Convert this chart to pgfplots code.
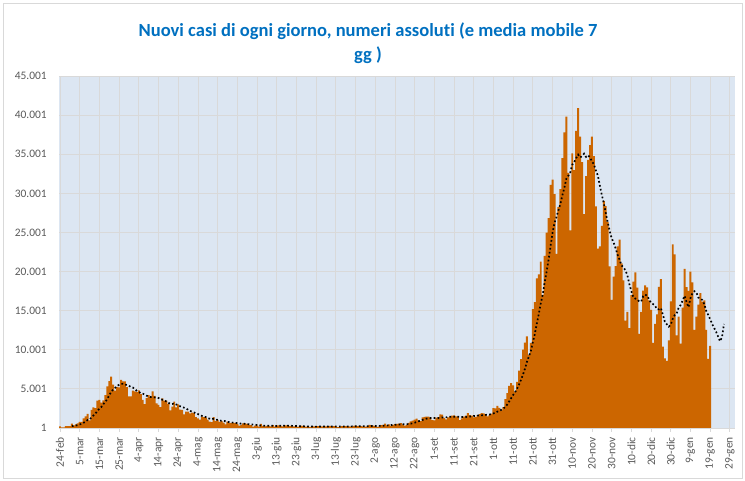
\documentclass[border=0pt]{standalone}
\usepackage{pgfplots}
\pgfplotsset{compat=1.18}
\usepackage{fontspec}
\setmainfont{Carlito}[Ligatures={NoCommon,NoDiscretionary}]
\definecolor{barc}{RGB}{204,102,0}
\definecolor{bgc}{RGB}{220,230,242}
\definecolor{gridc}{RGB}{217,217,217}
\definecolor{tickc}{RGB}{89,89,89}
\definecolor{titlec}{RGB}{0,112,192}
\begin{document}
\begin{tikzpicture}
\useasboundingbox (0,0) rectangle (745bp,481bp);
\draw[gridc, line width=0.75pt] (3bp,3bp) rectangle (742bp,478bp);
\node[align=center, text=titlec, font=\fontsize{18.6}{23.5}\selectfont\bfseries] at (368bp,438bp) {Nuovi casi di ogni giorno, numeri assoluti (e media mobile 7\\gg )};
\begin{axis}[
  at={(59bp,53bp)}, anchor=south west,
  scale only axis, width=676bp, height=352bp,
  xmin=-0.5, xmax=342.6, ymin=1, ymax=45001,
  axis background/.style={fill=bgc},
  axis x line*=bottom, axis y line*=left,
  x axis line style={gridc, line width=0.8pt, -},
  y axis line style={draw=none},
  xtick={0,10,...,340},
  xticklabels={24-feb,5-mar,15-mar,25-mar,4-apr,14-apr,24-apr,4-mag,14-mag,24-mag,3-giu,13-giu,23-giu,3-lug,13-lug,23-lug,2-ago,12-ago,22-ago,1-set,11-set,21-set,1-ott,11-ott,21-ott,31-ott,10-nov,20-nov,30-nov,10-dic,20-dic,30-dic,9-gen,19-gen,29-gen},
  ytick={1,5001,...,45001},
  yticklabels={1,5.001,10.001,15.001,20.001,25.001,30.001,35.001,40.001,45.001},
  scaled y ticks=false,
  grid=major, major grid style={gridc, line width=0.8pt},
  xtick align=outside, major tick length=4bp,
  xtick style={gridc, line width=0.8pt},
  ytick style={draw=none},
  /pgf/number format/assume math mode=true,
  tick label style={font=\fontsize{11.5}{12}\selectfont, text=tickc},
  xticklabel style={rotate=90, anchor=east, inner xsep=5bp, inner ysep=1bp},
  yticklabel style={anchor=east, inner sep=0pt, xshift=-12bp},
  clip=true,
]
\addplot[ybar, bar width=1, fill=barc, draw=none] coordinates {
(0,221)(1,93)(2,78)(3,250)(4,238)(5,240)(6,566)(7,342)(8,466)(9,587)(10,769)(11,778)(12,1247)(13,1492)(14,1797)(15,977)(16,2313)(17,2651)(18,2547)(19,3497)
(20,3590)(21,3233)(22,3526)(23,4207)(24,5322)(25,5986)(26,6557)(27,5560)(28,4789)(29,5249)(30,5210)(31,6153)(32,5959)(33,5974)(34,5217)(35,4050)(36,4053)(37,4782)(38,4668)(39,4585)
(40,4805)(41,4316)(42,3599)(43,3039)(44,3836)(45,4204)(46,3951)(47,4694)(48,4092)(49,3153)(50,2972)(51,2667)(52,3786)(53,3493)(54,3491)(55,3047)(56,2256)(57,2729)(58,3370)(59,2646)
(60,3021)(61,2357)(62,2324)(63,1739)(64,2091)(65,2086)(66,1872)(67,1965)(68,1900)(69,1389)(70,1221)(71,1075)(72,1444)(73,1401)(74,1327)(75,1083)(76,802)(77,744)(78,1402)(79,888)
(80,992)(81,789)(82,875)(83,675)(84,451)(85,813)(86,665)(87,642)(88,652)(89,669)(90,531)(91,300)(92,397)(93,584)(94,593)(95,516)(96,416)(97,355)(98,178)(99,318)
(100,321)(101,177)(102,518)(103,270)(104,197)(105,280)(106,283)(107,202)(108,379)(109,163)(110,346)(111,338)(112,301)(113,210)(114,329)(115,333)(116,251)(117,262)(118,224)(119,218)
(120,122)(121,190)(122,296)(123,259)(124,175)(125,174)(126,126)(127,142)(128,187)(129,201)(130,223)(131,235)(132,192)(133,208)(134,138)(135,193)(136,229)(137,276)(138,188)(139,234)
(140,169)(141,114)(142,162)(143,230)(144,233)(145,249)(146,219)(147,218)(148,129)(149,282)(150,306)(151,252)(152,275)(153,255)(154,170)(155,181)(156,212)(157,386)(158,379)(159,295)
(160,239)(161,159)(162,190)(163,384)(164,402)(165,552)(166,347)(167,463)(168,259)(169,412)(170,481)(171,523)(172,574)(173,629)(174,479)(175,320)(176,403)(177,642)(178,845)(179,947)
(180,1071)(181,1210)(182,953)(183,878)(184,1367)(185,1411)(186,1462)(187,1444)(188,1365)(189,996)(190,978)(191,1326)(192,1397)(193,1733)(194,1695)(195,1297)(196,1108)(197,1370)(198,1434)(199,1597)
(200,1616)(201,1501)(202,1458)(203,1008)(204,1229)(205,1452)(206,1585)(207,1907)(208,1638)(209,1587)(210,1350)(211,1392)(212,1640)(213,1786)(214,1912)(215,1869)(216,1766)(217,1494)(218,1648)(219,1851)
(220,2548)(221,2499)(222,2844)(223,2578)(224,2257)(225,2677)(226,3678)(227,4458)(228,5372)(229,5724)(230,5456)(231,4619)(232,5901)(233,7332)(234,8804)(235,10010)(236,10925)(237,11705)(238,9338)(239,10874)
(240,15199)(241,16079)(242,19143)(243,19644)(244,21273)(245,17012)(246,21994)(247,24991)(248,26831)(249,31084)(250,31758)(251,29907)(252,22253)(253,28244)(254,30550)(255,34505)(256,37809)(257,39811)(258,32616)(259,25271)
(260,35098)(261,32961)(262,37978)(263,40902)(264,37255)(265,33979)(266,27354)(267,32191)(268,34283)(269,36176)(270,37242)(271,34767)(272,28337)(273,22930)(274,23232)(275,25853)(276,29003)(277,28352)(278,26323)(279,20648)
(280,16377)(281,19350)(282,20709)(283,23225)(284,24099)(285,21052)(286,18887)(287,13720)(288,14842)(289,12756)(290,16999)(291,18727)(292,19903)(293,17938)(294,12030)(295,14844)(296,17572)(297,18236)(298,17992)(299,16308)
(300,15104)(301,10872)(302,13318)(303,14522)(304,18040)(305,19037)(306,10407)(307,8913)(308,8585)(309,11212)(310,16202)(311,23477)(312,22211)(313,11831)(314,14245)(315,10800)(316,15378)(317,20331)(318,18020)(319,17533)
(320,19978)(321,18627)(322,12532)(323,14242)(324,15774)(325,17246)(326,16146)(327,16310)(328,12545)(329,8824)(330,10497)
};
\addplot[black, line width=1.7pt, dash pattern=on 1.7pt off 2.3pt, line cap=butt] coordinates {
(6,241)(7,258)(8,311)(9,384)(10,458)(11,535)(12,679)(13,812)(14,1019)(15,1092)(16,1339)(17,1608)(18,1861)(19,2182)
(20,2482)(21,2687)(22,3051)(23,3322)(24,3703)(25,4194)(26,4632)(27,4913)(28,5135)(29,5381)(30,5525)(31,5643)(32,5640)(33,5556)(34,5507)(35,5402)(36,5231)(37,5170)(38,4958)(39,4761)
(40,4594)(41,4466)(42,4401)(43,4256)(44,4121)(45,4055)(46,3964)(47,3948)(48,3916)(49,3853)(50,3843)(51,3676)(52,3616)(53,3551)(54,3379)(55,3230)(56,3102)(57,3067)(58,3167)(59,3005)
(60,2937)(61,2775)(62,2672)(63,2598)(64,2507)(65,2323)(66,2213)(67,2062)(68,1997)(69,1863)(70,1789)(71,1644)(72,1552)(73,1485)(74,1394)(75,1277)(76,1193)(77,1125)(78,1172)(79,1092)
(80,1034)(81,957)(82,927)(83,909)(84,867)(85,783)(86,751)(87,701)(88,682)(89,652)(90,632)(91,610)(92,551)(93,539)(94,532)(95,513)(96,477)(97,452)(98,434)(99,423)
(100,385)(101,326)(102,326)(103,305)(104,283)(105,297)(106,292)(107,275)(108,304)(109,253)(110,264)(111,284)(112,287)(113,277)(114,295)(115,289)(116,301)(117,289)(118,273)(119,261)
(120,248)(121,229)(122,223)(123,224)(124,212)(125,205)(126,192)(127,195)(128,194)(129,181)(130,175)(131,184)(132,187)(133,198)(134,198)(135,199)(136,203)(137,210)(138,203)(139,209)
(140,204)(141,200)(142,196)(143,196)(144,190)(145,199)(146,197)(147,204)(148,206)(149,223)(150,234)(151,236)(152,240)(153,245)(154,238)(155,246)(156,236)(157,247)(158,265)(159,268)
(160,266)(161,264)(162,266)(163,290)(164,293)(165,317)(166,325)(167,357)(168,371)(169,403)(170,417)(171,434)(172,437)(173,477)(174,480)(175,488)(176,487)(177,510)(178,556)(179,609)
(180,672)(181,777)(182,867)(183,935)(184,1039)(185,1120)(186,1193)(187,1246)(188,1269)(189,1275)(190,1289)(191,1283)(192,1281)(193,1320)(194,1356)(195,1346)(196,1362)(197,1418)(198,1433)(199,1462)
(200,1445)(201,1418)(202,1441)(203,1426)(204,1406)(205,1409)(206,1407)(207,1449)(208,1468)(209,1487)(210,1535)(211,1559)(212,1586)(213,1614)(214,1615)(215,1648)(216,1674)(217,1694)(218,1731)(219,1761)
(220,1870)(221,1954)(222,2093)(223,2209)(224,2318)(225,2465)(226,2726)(227,2999)(228,3409)(229,3821)(230,4232)(231,4569)(232,5030)(233,5552)(234,6173)(235,6835)(236,7578)(237,8471)(238,9145)(239,9855)
(240,10979)(241,12019)(242,13323)(243,14569)(244,15936)(245,17032)(246,18621)(247,20019)(248,21555)(249,23261)(250,24992)(251,26225)(252,26974)(253,27867)(254,28661)(255,29757)(256,30718)(257,31868)(258,32255)(259,32687)
(260,33666)(261,34010)(262,34506)(263,34948)(264,34583)(265,34778)(266,35075)(267,34660)(268,34849)(269,34591)(270,34069)(271,33713)(272,32907)(273,32275)(274,30995)(275,29791)(276,28766)(277,27496)(278,26290)(279,25192)
(280,24255)(281,23701)(282,22966)(283,22141)(284,21533)(285,20780)(286,20528)(287,20149)(288,19505)(289,18369)(290,17479)(291,16712)(292,16548)(293,16412)(294,16171)(295,16171)(296,16859)(297,17036)(298,16931)(299,16417)
(300,16012)(301,15847)(302,15629)(303,15193)(304,15165)(305,15314)(306,14471)(307,13587)(308,13260)(309,12959)(310,13199)(311,13976)(312,14430)(313,14633)(314,15395)(315,15711)(316,16306)(317,16896)(318,16117)(319,15448)
(320,16612)(321,17238)(322,17486)(323,17323)(324,16672)(325,16565)(326,16366)(327,15842)(328,14974)(329,14444)(330,13909)(331,13300)(332,12800)(333,12300)(334,11700)(335,11100)(336,11600)(337,13300)
};
\end{axis}
\end{tikzpicture}
\end{document}
